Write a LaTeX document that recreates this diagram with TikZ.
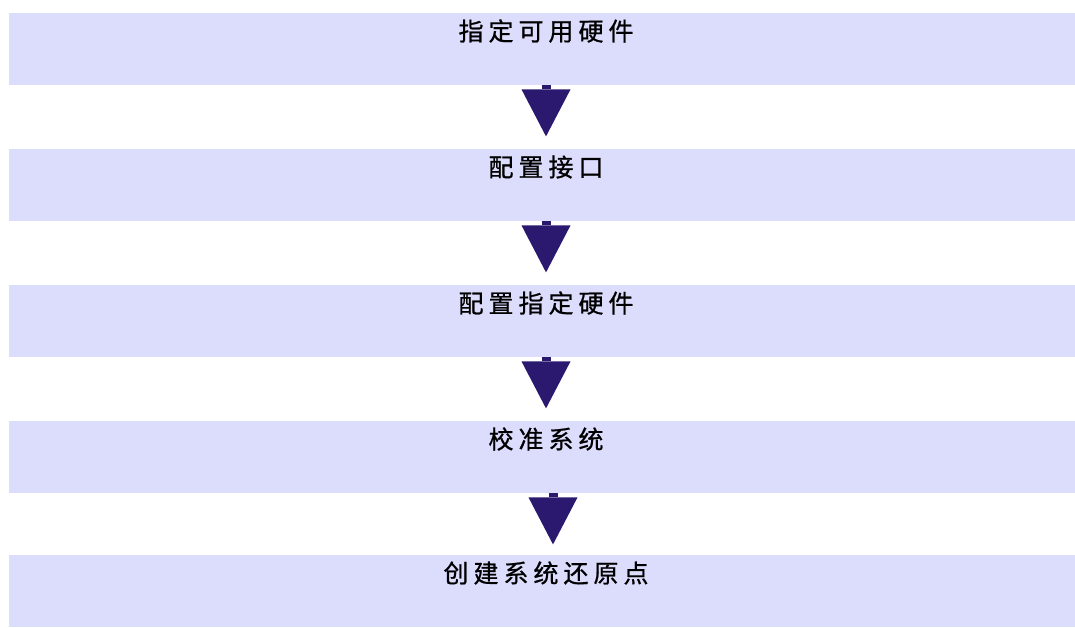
\documentclass[tikz,border=0pt]{standalone}
\usepackage{fontspec}
\newfontfamily\cjk[LetterSpace=20,FakeBold=0.8]{Noto Sans CJK SC}
\definecolor{boxfill}{RGB}{220,220,252}
\definecolor{arrowcol}{RGB}{43,25,112}
\begin{document}
\begin{tikzpicture}[x=1pt,y=-1pt,
  stepbox/.style={fill=boxfill,draw=none,minimum width=1066pt,minimum height=72pt,anchor=north west,inner sep=0pt},
  steplabel/.style={font=\cjk\fontsize{25}{27}\selectfont,anchor=center,inner sep=0pt}]
\useasboundingbox (0,0) rectangle (1075,627);
\fill[white] (0,0) rectangle (1075,627);
\foreach \i/\y/\t in {1/13/指定可用硬件,2/149/配置接口,3/285/配置指定硬件,4/421/校准系统,5/555/创建系统还原点}{
  \node[stepbox] (b\i) at (9,\y) {};
  \node[steplabel] (t\i) at (546,\y+18) {\t};
}
\foreach \a/\b/\x in {1/2/546,2/3/546,3/4/546,4/5/553}{
  \coordinate (s\a) at (\x,0);
  \fill[arrowcol] (b\a.south -| s\a) ++(-4.5,0) rectangle ++(9,4);
  \fill[arrowcol] (b\a.south -| s\a) ++(-24.5,4) -- ++(49,0) -- ++(-24.5,47) -- cycle;
}
\end{tikzpicture}
\end{document}
